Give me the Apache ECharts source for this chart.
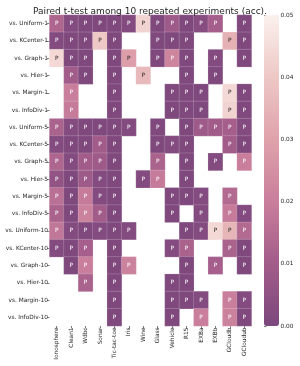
<!DOCTYPE html>
<html>
<head>
<meta charset="utf-8">
<script src="https://cdn.jsdelivr.net/npm/echarts@6/dist/echarts.min.js"></script>
<style>html,body{margin:0;padding:0;background:#fff}#c{width:300px;height:366px}</style>
</head>
<body>
<div id="c"></div>
<script>
var datasets = ['Ionosphere','Clean1','Wdbc','Sonar','Tic-tac-toe','Iris','Wine','Glass','Vehicle','R15','EXBa','EXBb','GCloudb','GCloudub'];
var comparisons = ['vs. Uniform-1','vs. KCenter-1','vs. Graph-1','vs. Hier-1','vs. Margin-1','vs. InfoDiv-1',
  'vs. Uniform-5','vs. KCenter-5','vs. Graph-5','vs. Hier-5','vs. Margin-5','vs. InfoDiv-5',
  'vs. Uniform-10','vs. KCenter-10','vs. Graph-10','vs. Hier-10','vs. Margin-10','vs. InfoDiv-10'];
var colorbarTicks = [0, 0.01, 0.02, 0.03, 0.04, 0.05];
// p-values (null = not significant / blank cell)
var pValues = [
  [0.013, 0.002, 0.001, 0.001, 0.001, 0.002, 0.043, 0.001, 0.009, 0.001, 0.003, 0.011, null, 0.001],
  [0.002, 0.001, 0.001, 0.040, 0.001, null, null, 0.001, 0.001, 0.001, null, null, 0.034, 0.001],
  [0.044, 0.001, 0.001, null, 0.001, 0.029, null, 0.001, 0.022, 0.001, null, 0.002, null, 0.001],
  [null, 0.010, 0.001, null, 0.001, null, 0.036, null, null, 0.001, null, 0.001, null, null],
  [null, 0.020, null, null, 0.001, null, null, null, 0.001, 0.001, 0.001, null, 0.044, 0.001],
  [null, 0.019, null, null, 0.001, null, null, null, 0.001, 0.001, 0.001, null, 0.043, 0.001],
  [0.012, 0.002, 0.001, 0.001, 0.001, 0.002, null, 0.001, null, 0.001, 0.009, 0.010, 0.011, 0.002],
  [0.002, 0.001, 0.001, 0.010, 0.001, null, null, 0.001, 0.002, 0.001, null, null, 0.010, 0.001],
  [0.013, 0.002, 0.010, 0.009, 0.001, null, null, 0.012, null, 0.001, null, 0.002, null, 0.020],
  [0.006, 0.001, 0.009, 0.002, 0.001, null, 0.002, 0.019, null, 0.001, null, null, null, null],
  [0.016, 0.001, 0.019, 0.002, 0.001, null, null, null, 0.001, 0.001, 0.002, null, 0.014, null],
  [0.012, 0.001, 0.021, 0.010, 0.001, null, null, null, 0.001, null, 0.002, null, 0.019, 0.002],
  [0.018, 0.002, 0.001, 0.002, 0.001, 0.002, null, null, null, 0.001, 0.002, 0.044, 0.035, 0.014],
  [0.002, 0.001, 0.011, null, 0.001, null, null, null, 0.002, 0.012, null, null, 0.012, 0.001],
  [null, 0.001, 0.020, null, 0.001, 0.021, null, null, null, 0.001, null, 0.011, null, 0.001],
  [null, null, 0.012, null, 0.001, null, null, null, 0.001, 0.001, null, null, null, null],
  [null, null, null, null, 0.001, null, null, null, 0.001, 0.001, 0.002, null, 0.020, 0.002],
  [null, null, null, null, 0.001, null, null, null, 0.001, null, 0.020, null, 0.021, 0.001]
];

var FONT = 'DejaVu Sans';
var TXT = '#262626';
var cells = [];
pValues.forEach(function (row, r) {
  row.forEach(function (v, c) {
    if (v === null) return;
    cells.push({ value: [c, r, v], label: { color: v > 0.027 ? '#262626' : '#ffffff' } });
  });
});

var chart = echarts.init(document.getElementById('c'), null, { renderer: 'canvas' });
chart.setOption({
  animation: false,
  backgroundColor: '#ffffff',
  textStyle: { fontFamily: FONT },
  title: {
    text: 'Paired t-test among 10 repeated experiments (acc).',
    left: 'center', top: 2,
    textStyle: { fontFamily: FONT, fontSize: 9, fontWeight: 'normal', color: TXT }
  },
  grid: [
    { left: 49.5, top: 15, width: 202, height: 311 },
    { left: 264, top: 15, width: 15, height: 311 }
  ],
  xAxis: [
    { type: 'category', data: datasets, gridIndex: 0, position: 'bottom',
      axisLine: { show: false }, splitLine: { show: false },
      axisTick: { show: true, alignWithLabel: true, length: 2.5, lineStyle: { color: TXT, width: 0.6 } },
      axisLabel: { rotate: 90, interval: 0, fontSize: 5.8, fontFamily: FONT, color: TXT, margin: 1.5 } },
    { type: 'value', gridIndex: 1, show: false, min: 0, max: 1 }
  ],
  yAxis: [
    { type: 'category', data: comparisons, gridIndex: 0, inverse: true,
      axisLine: { show: false }, splitLine: { show: false },
      axisTick: { show: true, alignWithLabel: true, length: 2.5, lineStyle: { color: TXT, width: 0.6 } },
      axisLabel: { interval: 0, fontSize: 5.8, fontFamily: FONT, color: TXT, margin: 1.5 } },
    { type: 'value', gridIndex: 1, position: 'right', min: colorbarTicks[0], max: colorbarTicks[colorbarTicks.length - 1], interval: 0.01,
      axisLine: { show: false }, splitLine: { show: false },
      axisTick: { show: true, length: 2.5, lineStyle: { color: TXT, width: 0.6 } },
      axisLabel: { fontSize: 5.8, fontFamily: FONT, color: TXT, margin: 1.5, formatter: function (v) { return v.toFixed(2); } } }
  ],
  visualMap: {
    type: 'continuous', min: 0, max: 0.05, calculable: false, seriesIndex: 0,
    orient: 'vertical', left: 264, top: 15, itemWidth: 15, itemHeight: 311, padding: 0,
    text: null, hoverLink: false,
    inRange: { color: ['#7b477c', '#a25c8a', '#c97e9b', '#dfa2ab', '#edc8c5', '#fbf1ee'] }
  },
  series: [
    { type: 'heatmap', xAxisIndex: 0, yAxisIndex: 0, data: cells,
      itemStyle: { borderColor: 'rgba(255,255,255,0.35)', borderWidth: 0.5 },
      label: { show: true, formatter: 'P', fontSize: 5.8, fontFamily: FONT } },
    { type: 'scatter', xAxisIndex: 1, yAxisIndex: 1, data: [], silent: true }
  ]
});
</script>
</body>
</html>
